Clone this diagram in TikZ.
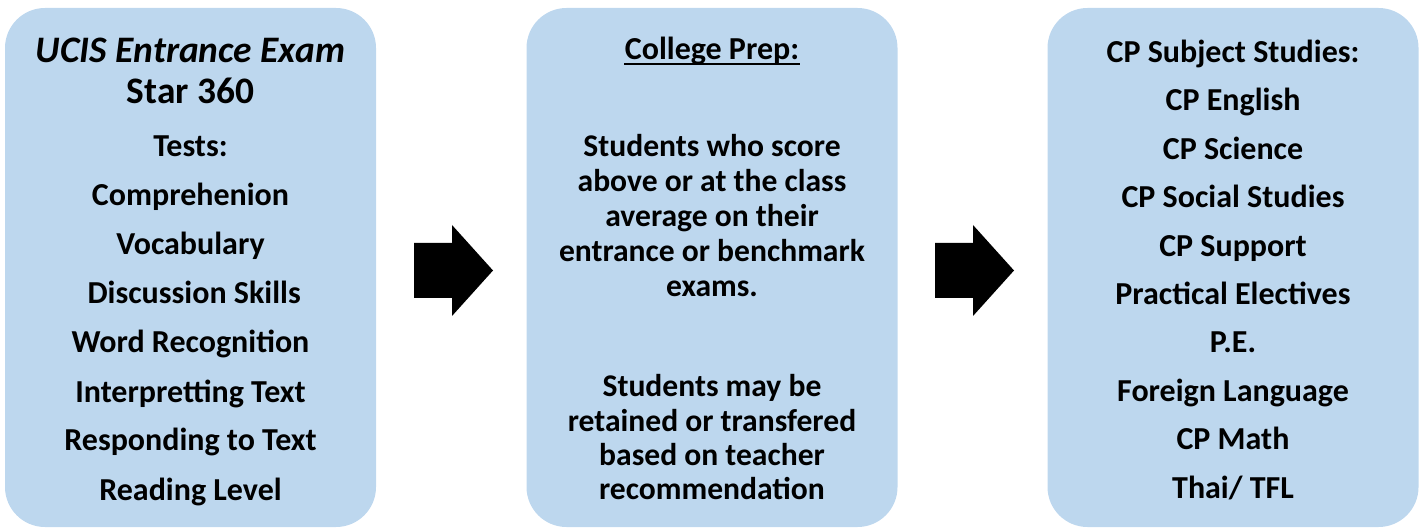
\documentclass[tikz,border=0pt]{standalone}
\usepackage{fontspec}
\setmainfont{Carlito}
\usepackage{tikz}
\usetikzlibrary{positioning}

\definecolor{panelblue}{RGB}{189,215,238}

\tikzset{
  panel/.style={fill=panelblue, rounded corners=20pt, minimum width=185.5pt, minimum height=259.5pt, inner sep=0pt},
  line/.style={anchor=base, inner sep=0pt, font=\bfseries\fontsize{16}{20}\selectfont},
  midline/.style={anchor=base, inner sep=0pt, font=\bfseries\fontsize{15.8}{18}\selectfont},
  bigline/.style={anchor=base, inner sep=0pt, font=\bfseries\fontsize{18.7}{22}\selectfont},
  blockarrow/.pic={\fill (0,-27.5) -- (38,-27.5) -- (38,-45.5) -- (79,0) -- (38,45.5) -- (38,27.5) -- (0,27.5) -- cycle;}
}

\begin{document}
\begin{tikzpicture}[x=0.5pt,y=-0.5pt]
\useasboundingbox (0,0) rectangle (1427,528);

% the three panels
\node[panel] (exam) at (190.5,267.5) {};
\node[panel] (prep) at (712,267.5) {};
\node[panel] (subj) at (1233,267.5) {};

% arrows between them
\pic (arrA) at (414,270.5) {blockarrow};
\pic (arrB) at (935,270.5) {blockarrow};

% entrance exam
\node[bigline, font=\bfseries\itshape\fontsize{18.7}{22}\selectfont] (exam-title) at (190.5,63) {UCIS Entrance Exam};
\node[bigline] (exam-star) at (190.5,104) {Star 360};
\node[line] (exam-tests) at (190.5,157) {Tests:};
\foreach \t [count=\i from 0] in {Comprehenion,Vocabulary,{\ Discussion Skills},Word Recognition,Interpretting Text,Responding to Text,Reading Level}
  \node[line] (exam-\i) at (190.5,{206+49*\i}) {\t};

% college prep
\node[line] (prep-title) at (712,60) {College Prep:};
\draw[line width=1pt] ([yshift=-2pt]prep-title.base west) -- ([yshift=-2pt]prep-title.base east);
\foreach \t [count=\i from 0] in {Students who score,above or at the class,average on their,entrance or benchmark,exams.}
  \node[midline] (prep-a\i) at (712,{157+35*\i}) {\t};
\foreach \t [count=\i from 0] in {Students may be,retained or transfered,based on teacher,recommendation}
  \node[midline] (prep-b\i) at (712,{397+34.3*\i}) {\t};

% subject studies
\node[line] (subj-title) at (1233,63) {CP Subject Studies:};
\foreach \t [count=\i from 0] in {CP English,CP Science,CP Social Studies,CP Support,Practical Electives,P.E.,Foreign Language,CP Math,Thai/ TFL}
  \node[line] (subj-\i) at (1233,{111+48.4*\i}) {\t};
\end{tikzpicture}
\end{document}
